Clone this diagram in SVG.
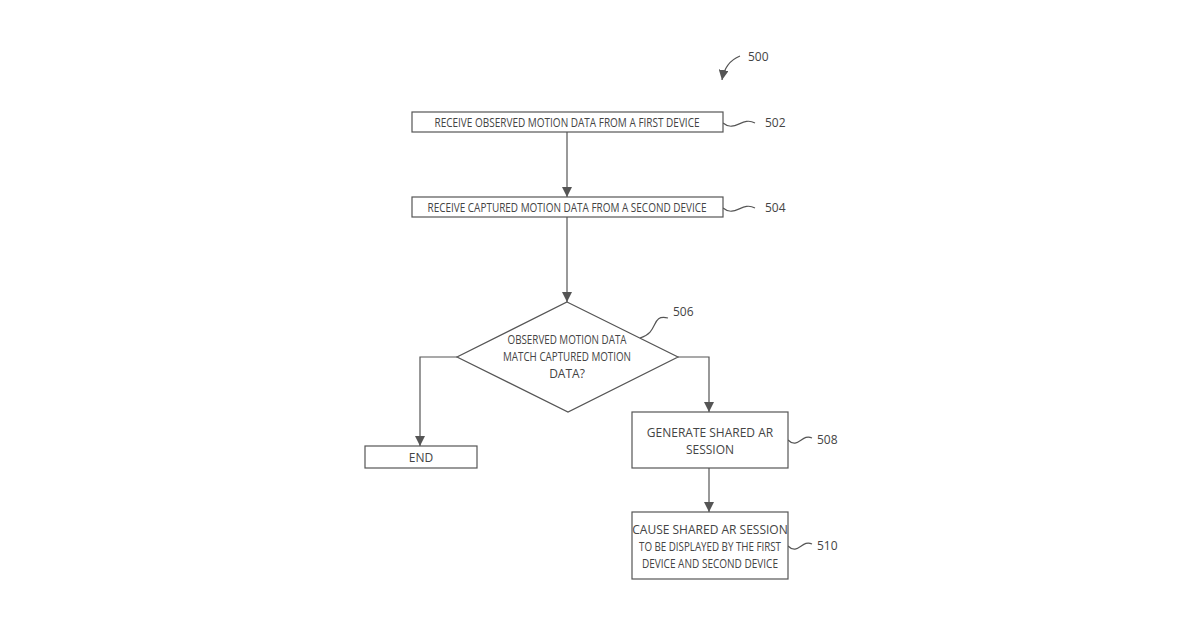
<svg xmlns="http://www.w3.org/2000/svg" width="1200" height="630" viewBox="0 0 1200 630">
<style>
.b{fill:#fff;stroke:#555;stroke-width:1.2}
.t{font-family:"Open Sans",sans-serif;font-size:12px;fill:#444;text-anchor:middle}
.r{font-family:"Open Sans",sans-serif;font-size:12px;fill:#444}
.c{fill:none;stroke:#555;stroke-width:1.2}
</style>
<defs><marker id="a" markerWidth="8" markerHeight="8" refX="4" refY="7" orient="auto" markerUnits="userSpaceOnUse"><path d="M0,0 L4,7 L8,0 Z" fill="#555" transform="rotate(-90 4 4)"/></marker>
<marker id="d" viewBox="0 0 10 10" markerWidth="10" markerHeight="10" refX="10" refY="5" orient="auto" markerUnits="userSpaceOnUse"><path d="M0,0 L10,5 L0,10 Z" fill="#555"/></marker></defs>
<rect width="1200" height="630" fill="#fff"/>
<g id="connectors">
<path class="c" d="M567,132 V197" marker-end="url(#d)"/>
<path class="c" d="M567,217 V302" marker-end="url(#d)"/>
<path class="c" d="M457,357 H420 V446" marker-end="url(#d)"/>
<path class="c" d="M678,357 H709 V412" marker-end="url(#d)"/>
<path class="c" d="M709,468 V512" marker-end="url(#d)"/>
<path class="c" d="M740,56 Q725,62 722,80" marker-end="url(#d)"/>
<path class="c" d="M723,123 C735,133 742,116 755,123"/>
<path class="c" d="M723,208 C735,218 742,201 755,208"/>
<path class="c" d="M640,338 C660,332 650,314 668,318"/>
<path class="c" d="M788,440 C798,450 802,433 812,438"/>
<path class="c" d="M788,546 C798,556 802,539 812,544"/>
</g>
<g id="n500"><text class="r" x="748" y="61">500</text></g>
<g id="n502"><rect class="b" x="412" y="112" width="311" height="20"/><text class="t" x="567" y="127" textLength="265" lengthAdjust="spacingAndGlyphs">RECEIVE OBSERVED MOTION DATA FROM A FIRST DEVICE</text><text class="r" x="765" y="127">502</text></g>
<g id="n504"><rect class="b" x="412" y="197" width="311" height="20"/><text class="t" x="567" y="212" textLength="279" lengthAdjust="spacingAndGlyphs">RECEIVE CAPTURED MOTION DATA FROM A SECOND DEVICE</text><text class="r" x="765" y="212">504</text></g>
<g id="n506"><polygon class="b" points="567,302 678,357 568,412 457,357"/>
<text class="t" x="567" y="344" textLength="119" lengthAdjust="spacingAndGlyphs">OBSERVED MOTION DATA</text>
<text class="t" x="567" y="361" textLength="128" lengthAdjust="spacingAndGlyphs">MATCH CAPTURED MOTION</text>
<text class="t" x="567" y="378">DATA?</text>
<text class="r" x="673" y="316">506</text></g>
<g id="nend"><rect class="b" x="365" y="446" width="112" height="22"/><text class="t" x="421" y="462">END</text></g>
<g id="n508"><rect class="b" x="632" y="412" width="156" height="56"/><text class="t" x="710" y="437">GENERATE SHARED AR</text><text class="t" x="710" y="454">SESSION</text><text class="r" x="817" y="444">508</text></g>
<g id="n510"><rect class="b" x="632" y="512" width="156" height="67"/><text class="t" x="710" y="534">CAUSE SHARED AR SESSION</text><text class="t" x="710" y="551" textLength="142" lengthAdjust="spacingAndGlyphs">TO BE DISPLAYED BY THE FIRST</text><text class="t" x="710" y="568" textLength="136" lengthAdjust="spacingAndGlyphs">DEVICE AND SECOND DEVICE</text><text class="r" x="817" y="550">510</text></g>
</svg>
